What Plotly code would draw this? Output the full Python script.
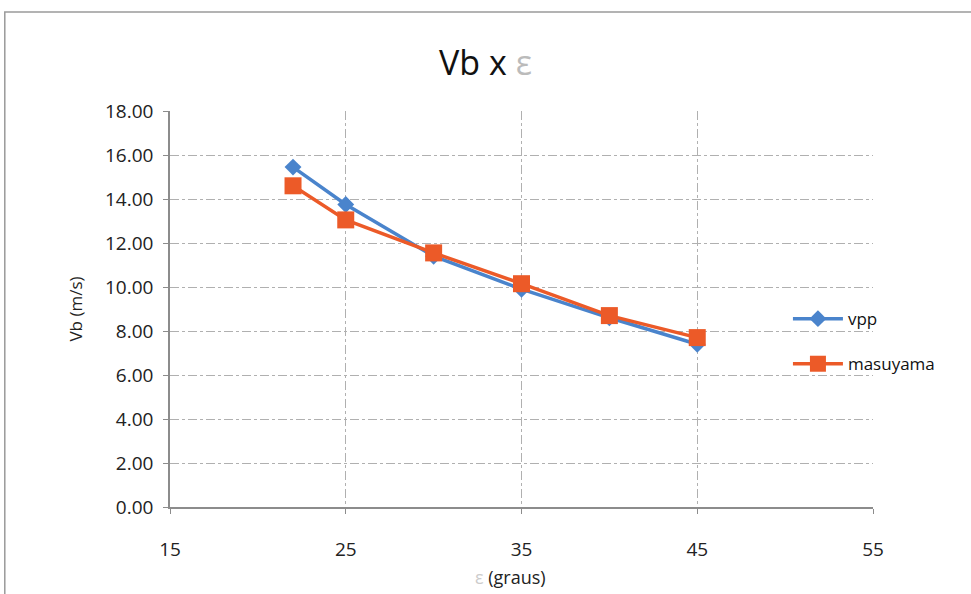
import plotly.graph_objects as go

angles = [22, 25, 30, 35, 40, 45]
vpp = [15.45, 13.75, 11.40, 9.90, 8.60, 7.40]
masuyama = [14.60, 13.05, 11.55, 10.15, 8.70, 7.70]
x_ticks = [15, 25, 35, 45, 55]
y_ticks = [0, 2, 4, 6, 8, 10, 12, 14, 16, 18]
y_labels = [f"{v:.2f}" for v in y_ticks]

font = "Open Sans, Liberation Sans, sans-serif"
fig = go.Figure()
fig.add_trace(go.Scatter(x=angles, y=vpp, name="vpp", mode="lines+markers",
                         line=dict(color="#4a84cc", width=3.5),
                         marker=dict(symbol="diamond", size=13, color="#4a84cc"),
                         legendgroup="a"))
fig.add_trace(go.Scatter(x=angles, y=masuyama, name="masuyama", mode="lines+markers",
                         line=dict(color="#ec5a28", width=3.5),
                         marker=dict(symbol="square", size=17, color="#ec5a28"),
                         legendgroup="b"))

fig.update_layout(
    width=971, height=594,
    paper_bgcolor="white", plot_bgcolor="white",
    margin=dict(l=170, r=98, t=111, b=87),
    title=dict(text="Vb x <span style='color:#bbbbbb'>ε</span>", x=0.5, xanchor="center",
               y=0.893, yanchor="middle", font=dict(family=font, size=34, color="#111")),
    font=dict(family=font, color="#222"),
    showlegend=True,
    legend=dict(x=0.879, y=0.52, xanchor="left", yanchor="top", bgcolor="rgba(0,0,0,0)",
                font=dict(size=17, color="#111"), tracegroupgap=20, traceorder="grouped",
                itemwidth=50),
    xaxis=dict(range=[15, 55], tickvals=x_ticks, ticktext=[str(v) for v in x_ticks],
               showgrid=True, gridcolor="#b0b0b0", griddash="dashdot", gridwidth=1,
               showline=True, linecolor="#8c8c8c", linewidth=1.5,
               ticks="outside", ticklen=5, tickcolor="#8c8c8c",
               tickfont=dict(size=19, color="#222"), ticklabelstandoff=19,
               zeroline=False),
    yaxis=dict(range=[0, 18], tickvals=y_ticks, ticktext=y_labels,
               showgrid=True, gridcolor="#b0b0b0", griddash="dashdot", gridwidth=1,
               showline=True, linecolor="#8c8c8c", linewidth=1.5,
               ticks="outside", ticklen=5, tickcolor="#8c8c8c",
               tickfont=dict(size=19, color="#222"), ticklabelstandoff=6,
               title=dict(text="Vb (m/s)", font=dict(size=17, color="#222"), standoff=18),
               zeroline=False),
)
fig.add_annotation(text="<span style='color:#cccccc'>ε</span> (graus)", xref="paper", yref="paper",
                   x=0.485, y=-0.178, showarrow=False, xanchor="center", yanchor="middle",
                   font=dict(size=18, color="#222", family=font))
fig.add_shape(type="rect", xref="paper", yref="paper", x0=-0.235, x1=1.17, y0=-0.24, y1=1.25,
              line=dict(color="#9a9a9a", width=1.5), layer="below")
fig.write_html("out.html")
